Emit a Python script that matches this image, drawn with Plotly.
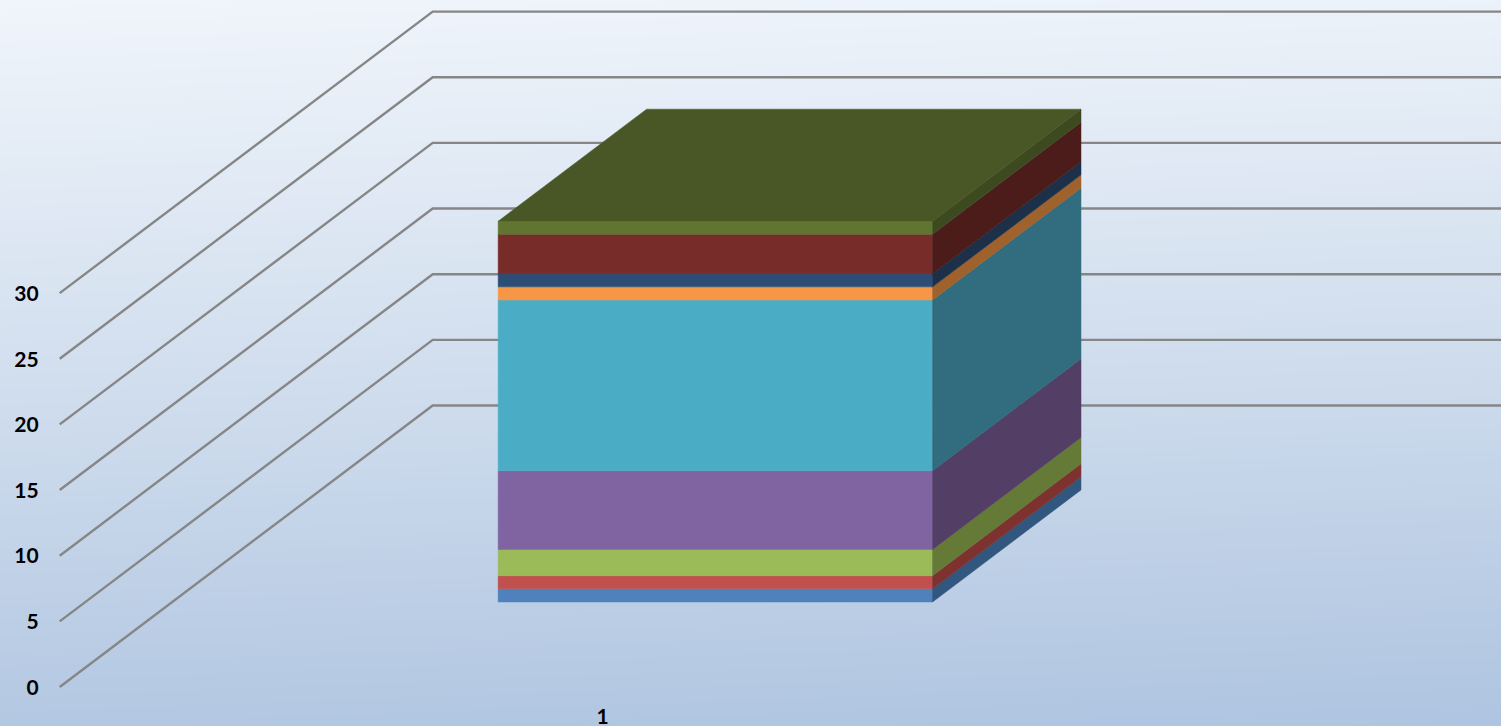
import numpy as np
import plotly.graph_objects as go

categories = ["1"]
series_values = [1, 1, 2, 6, 13, 1, 1, 3, 1]
front_colors = ["#4f81bd", "#c0504d", "#9bbb59", "#8064a2", "#4bacc6",
                "#f79646", "#2c4d75", "#772c2a", "#5f7530"]
side_colors = ["#31577f", "#7e3230", "#667a37", "#533f66", "#316d7f",
               "#a0622c", "#1c3049", "#4b1c1a", "#3d4a1f"]
top_color = "#485725"
y_ticks = [0, 5, 10, 15, 20, 25, 30]

W, H = 1501, 726
PX_X = 1086.0   # pixels per category
PX_Y = 13.13    # pixels per value unit
X0, Y0 = 59.7, 687.0  # pixels of floor front-left corner

DX = 373.0 / PX_X   # oblique shift of the full depth, in x units
DY = 281.5 / PX_Y   # oblique shift of the full depth, in y units
BAR_W = 0.4
D_FRONT, D_BACK = 0.302, 0.70


def proj(u, v, d):
    return u + DX * d, v + DY * d


fig = go.Figure()

# background gradient
xr = [0.5 - X0 / PX_X, 0.5 + (W - X0) / PX_X]
yr = [(Y0 - H) / PX_Y, Y0 / PX_Y]
gx = np.linspace(xr[0], xr[1], 3)
gy = np.linspace(yr[0], yr[1], 3)
t = np.array([[(yr[1] - b) / (yr[1] - yr[0]) * 0.93 + (a - xr[0]) / (xr[1] - xr[0]) * 0.07 for a in gx] for b in gy])
fig.add_trace(go.Heatmap(x=gx, y=gy, z=t, zmin=0, zmax=1, zsmooth="best", showscale=False, hoverinfo="skip",
                         colorscale=[[0, "#f0f5fb"], [0.45, "#d4e0ef"], [1, "#aec4e0"]]))

# walls' gridlines
lx, ly = [], []
for tick in y_ticks:
    a = proj(0.5, tick, 0)
    b = proj(0.5, tick, 1)
    c = proj(1.5, tick, 1)
    lx += [a[0], b[0], c[0], None]
    ly += [a[1], b[1], c[1], None]
fig.add_trace(go.Scatter(x=lx, y=ly, mode="lines", line=dict(color="#868686", width=2.4), hoverinfo="skip"))


def poly(points, color):
    xs = [p[0] for p in points] + [points[0][0]]
    ys = [p[1] for p in points] + [points[0][1]]
    fig.add_trace(go.Scatter(x=xs, y=ys, mode="lines", fill="toself", fillcolor=color,
                             line=dict(color=color, width=0.5), hoverinfo="skip"))


left, right = 1 - BAR_W / 2, 1 + BAR_W / 2
base = 0
for val, fc, sc in zip(series_values, front_colors, side_colors):
    top = base + val
    poly([proj(left, base, D_FRONT), proj(right, base, D_FRONT),
          proj(right, top, D_FRONT), proj(left, top, D_FRONT)], fc)
    poly([proj(right, base, D_FRONT), proj(right, base, D_BACK),
          proj(right, top, D_BACK), proj(right, top, D_FRONT)], sc)
    base = top
poly([proj(left, base, D_FRONT), proj(right, base, D_FRONT),
      proj(right, base, D_BACK), proj(left, base, D_BACK)], top_color)

font = dict(family="Lato, Carlito, sans-serif", size=21, color="#000000", weight="bold")
fig.add_trace(go.Scatter(x=[0.5 - 21 / PX_X] * len(y_ticks), y=[v - 2.5 / PX_Y for v in y_ticks], mode="text",
                         text=[str(v) for v in y_ticks], textposition="middle left",
                         textfont=font, hoverinfo="skip"))
fig.add_trace(go.Scatter(x=[1], y=[-32 / PX_Y], mode="text", text=categories,
                         textposition="middle center", textfont=font, hoverinfo="skip"))

fig.update_layout(
    width=W, height=H, margin=dict(l=0, r=0, t=0, b=0), showlegend=False,
    paper_bgcolor="#d4e0ef", plot_bgcolor="#d4e0ef",
    xaxis=dict(range=xr, visible=False, fixedrange=True),
    yaxis=dict(range=yr, visible=False, fixedrange=True),
)
fig.write_html("out.html", config={"displayModeBar": False},
               post_script="document.body.style.margin='0';document.body.style.overflow='hidden';")
